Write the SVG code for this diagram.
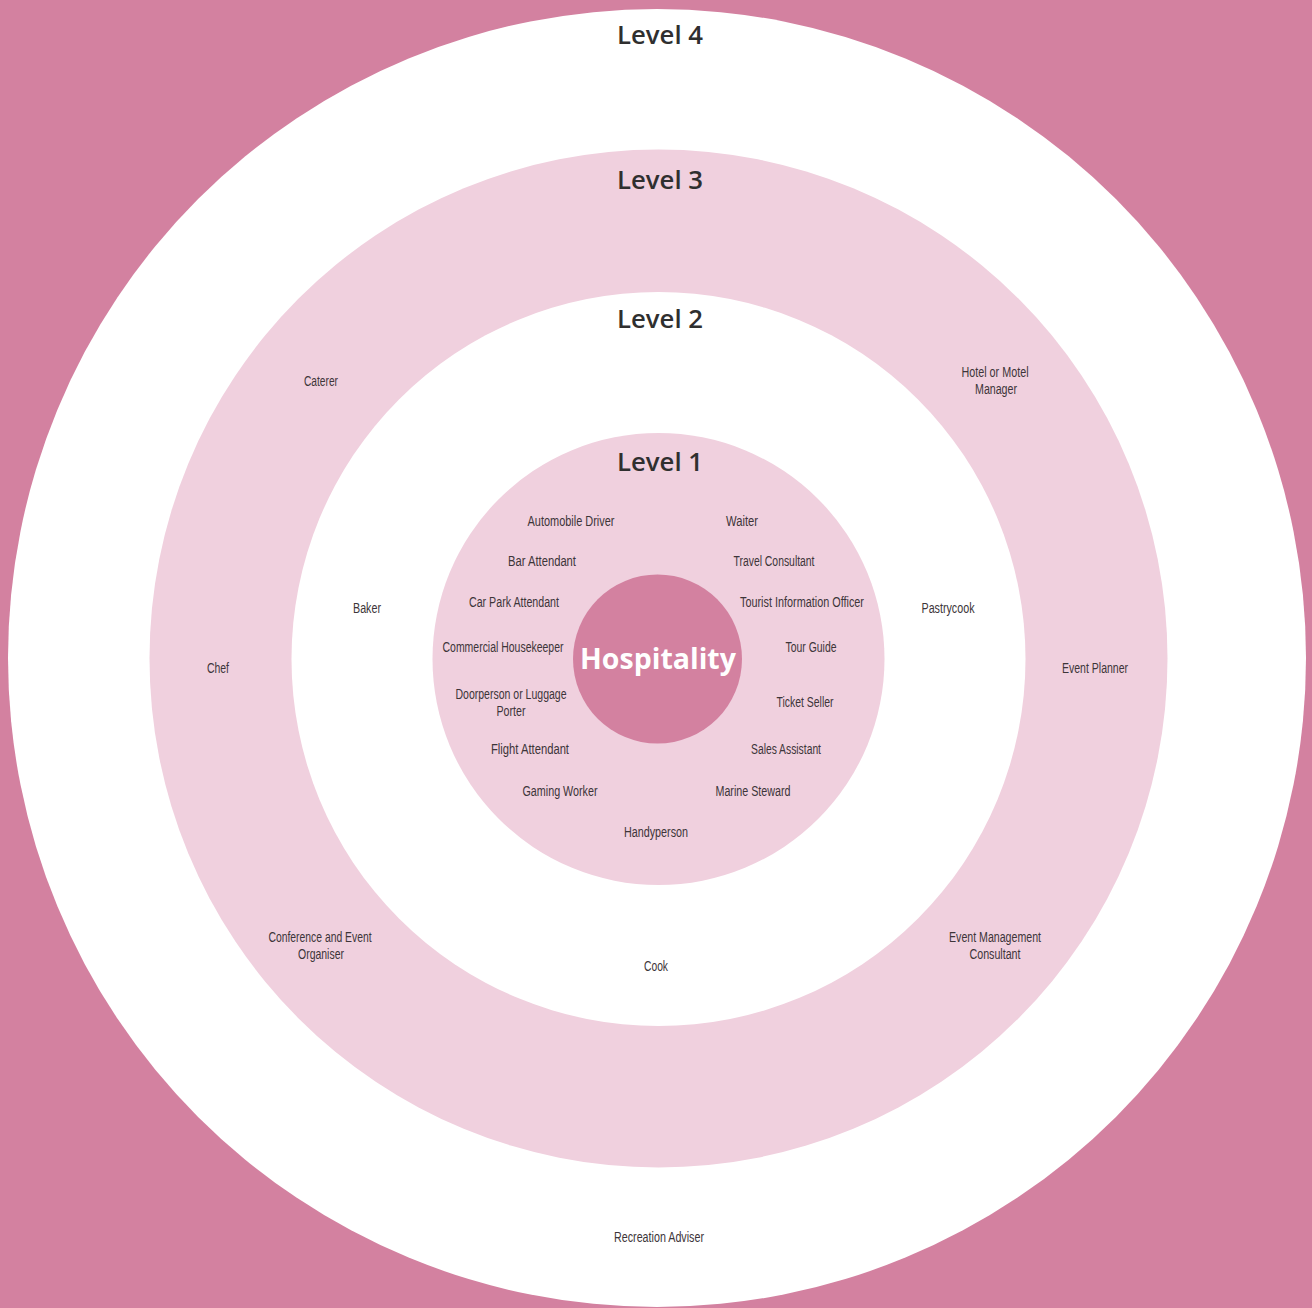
<svg xmlns="http://www.w3.org/2000/svg" width="1312" height="1308" viewBox="0 0 1312 1308">
<style>
.lvl{font-family:"Open Sans","Noto Sans","DejaVu Sans",sans-serif;font-weight:600;font-size:25px;fill:#2f2f2f;text-anchor:middle}
.job{font-family:"Liberation Sans","Arial",sans-serif;font-size:15px;fill:#3d3539;text-anchor:middle}
.hub{font-family:"Open Sans","Noto Sans","DejaVu Sans",sans-serif;font-weight:700;font-size:28.5px;fill:#ffffff;text-anchor:middle}
</style>
<rect id="background" x="0" y="0" width="1312" height="1308" fill="#D381A0"/>
<g id="level4">
<circle cx="657" cy="658" r="649" fill="#ffffff"/>
<text class="lvl" x="660" y="44" textLength="86" lengthAdjust="spacingAndGlyphs">Level 4</text>
<text class="job" transform="translate(659 1242) scale(0.72 1)" textLength="125" lengthAdjust="spacingAndGlyphs">Recreation Adviser</text>
</g>
<g id="level3">
<circle cx="658.5" cy="658.5" r="509" fill="#F0D0DE"/>
<text class="lvl" x="660" y="189" textLength="86" lengthAdjust="spacingAndGlyphs">Level 3</text>
<text class="job" transform="translate(321 386) scale(0.72 1)" textLength="47.2" lengthAdjust="spacingAndGlyphs">Caterer</text>
<text class="job" transform="translate(995 377) scale(0.72 1)" textLength="93.1" lengthAdjust="spacingAndGlyphs">Hotel or Motel</text>
<text class="job" transform="translate(996 394) scale(0.72 1)" textLength="58.3" lengthAdjust="spacingAndGlyphs">Manager</text>
<text class="job" transform="translate(218 673) scale(0.72 1)" textLength="30.6" lengthAdjust="spacingAndGlyphs">Chef</text>
<text class="job" transform="translate(1095 673) scale(0.72 1)" textLength="91.7" lengthAdjust="spacingAndGlyphs">Event Planner</text>
<text class="job" transform="translate(320 942) scale(0.72 1)" textLength="143.1" lengthAdjust="spacingAndGlyphs">Conference and Event</text>
<text class="job" transform="translate(321 959) scale(0.72 1)" textLength="63.9" lengthAdjust="spacingAndGlyphs">Organiser</text>
<text class="job" transform="translate(995 942) scale(0.72 1)" textLength="127.8" lengthAdjust="spacingAndGlyphs">Event Management</text>
<text class="job" transform="translate(995 959) scale(0.72 1)" textLength="70.8" lengthAdjust="spacingAndGlyphs">Consultant</text>
</g>
<g id="level2">
<circle cx="658.5" cy="659" r="367" fill="#ffffff"/>
<text class="lvl" x="660" y="328" textLength="86" lengthAdjust="spacingAndGlyphs">Level 2</text>
<text class="job" transform="translate(367 613) scale(0.72 1)" textLength="38.9" lengthAdjust="spacingAndGlyphs">Baker</text>
<text class="job" transform="translate(948 613) scale(0.72 1)" textLength="73.6" lengthAdjust="spacingAndGlyphs">Pastrycook</text>
<text class="job" transform="translate(656 971) scale(0.72 1)" textLength="33.3" lengthAdjust="spacingAndGlyphs">Cook</text>
</g>
<g id="level1">
<circle cx="658.5" cy="659" r="226" fill="#F0D0DE"/>
<text class="lvl" x="660" y="471" textLength="86" lengthAdjust="spacingAndGlyphs">Level 1</text>
<text class="job" transform="translate(571 526) scale(0.72 1)" textLength="120.8" lengthAdjust="spacingAndGlyphs">Automobile Driver</text>
<text class="job" transform="translate(742 526) scale(0.72 1)" textLength="44.4" lengthAdjust="spacingAndGlyphs">Waiter</text>
<text class="job" transform="translate(542 566) scale(0.72 1)" textLength="94.4" lengthAdjust="spacingAndGlyphs">Bar Attendant</text>
<text class="job" transform="translate(774 566) scale(0.72 1)" textLength="112.5" lengthAdjust="spacingAndGlyphs">Travel Consultant</text>
<text class="job" transform="translate(514 607) scale(0.72 1)" textLength="125" lengthAdjust="spacingAndGlyphs">Car Park Attendant</text>
<text class="job" transform="translate(802 607) scale(0.72 1)" textLength="172.2" lengthAdjust="spacingAndGlyphs">Tourist Information Officer</text>
<text class="job" transform="translate(503 652) scale(0.72 1)" textLength="168" lengthAdjust="spacingAndGlyphs">Commercial Housekeeper</text>
<text class="job" transform="translate(811 652) scale(0.72 1)" textLength="70.8" lengthAdjust="spacingAndGlyphs">Tour Guide</text>
<text class="job" transform="translate(511 699) scale(0.72 1)" textLength="154.2" lengthAdjust="spacingAndGlyphs">Doorperson or Luggage</text>
<text class="job" transform="translate(511 716) scale(0.72 1)" textLength="40.3" lengthAdjust="spacingAndGlyphs">Porter</text>
<text class="job" transform="translate(805 707) scale(0.72 1)" textLength="79.2" lengthAdjust="spacingAndGlyphs">Ticket Seller</text>
<text class="job" transform="translate(530 754) scale(0.72 1)" textLength="108.3" lengthAdjust="spacingAndGlyphs">Flight Attendant</text>
<text class="job" transform="translate(786 754) scale(0.72 1)" textLength="97.2" lengthAdjust="spacingAndGlyphs">Sales Assistant</text>
<text class="job" transform="translate(560 796) scale(0.72 1)" textLength="104.2" lengthAdjust="spacingAndGlyphs">Gaming Worker</text>
<text class="job" transform="translate(753 796) scale(0.72 1)" textLength="104.2" lengthAdjust="spacingAndGlyphs">Marine Steward</text>
<text class="job" transform="translate(656 837) scale(0.72 1)" textLength="88.9" lengthAdjust="spacingAndGlyphs">Handyperson</text>
</g>
<g id="hospitality">
<circle cx="657.5" cy="659" r="84.5" fill="#D381A0"/>
<text class="hub" x="658" y="669">Hospitality</text>
</g>
<g id="connectors"/>
</svg>
